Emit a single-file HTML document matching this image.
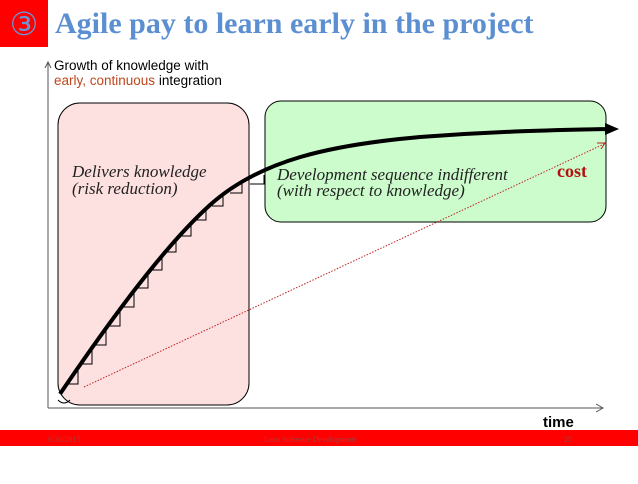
<!DOCTYPE html>
<html><head><style>
html,body{margin:0;padding:0;background:#fff;}
body{width:638px;height:479px;overflow:hidden;position:relative;}
</style></head><body>
<svg width="638" height="479" viewBox="0 0 638 479" xmlns="http://www.w3.org/2000/svg">
<rect x="0" y="0" width="48" height="47" fill="#ff0000"/>
<text x="24" y="35" font-family="DejaVu Sans, sans-serif" font-size="32" fill="#6a94d4" text-anchor="middle">③</text>
<text x="55" y="33" font-family="Liberation Serif, serif" font-weight="bold" font-size="30" fill="#5b8fd2">Agile pay to learn early in the project</text>
<text x="54" y="70" font-family="Liberation Sans, sans-serif" font-size="13.5" fill="#000">Growth of knowledge with</text>
<text x="54" y="85" font-family="Liberation Sans, sans-serif" font-size="13.5" fill="#000"><tspan fill="#c0461c">early, continuous</tspan> integration</text>
<rect x="58" y="103" width="191" height="302" rx="22" fill="#fde0e0" stroke="#000" stroke-width="1"/>
<rect x="265" y="101" width="341" height="121" rx="16" fill="#ccfccc" stroke="#000" stroke-width="1"/>
<line x1="48" y1="408" x2="48" y2="63" stroke="#555" stroke-width="1"/>
<path d="M45,68 L48,62 L51,68" fill="none" stroke="#555"/>
<line x1="48" y1="408" x2="602" y2="408" stroke="#555" stroke-width="1"/>
<path d="M596,404 L603,408 L596,412" fill="none" stroke="#555"/>
<text x="72" y="177" font-family="Liberation Serif, serif" font-style="italic" font-size="17" fill="#222">Delivers knowledge</text>
<text x="72" y="194" font-family="Liberation Serif, serif" font-style="italic" font-size="17" fill="#222">(risk reduction)</text>
<text x="277" y="180" font-family="Liberation Serif, serif" font-style="italic" font-size="17" fill="#222">Development sequence indifferent</text>
<text x="277" y="196" font-family="Liberation Serif, serif" font-style="italic" font-size="17" fill="#222">(with respect to knowledge)</text>
<text x="557" y="177" font-family="Liberation Serif, serif" font-weight="bold" font-size="18" fill="#b01010">cost</text>
<line x1="84" y1="387" x2="604" y2="144" stroke="#c02020" stroke-width="1" stroke-dasharray="1.5,1.5"/>
<path d="M597,143 L605,143 L601,149" fill="none" stroke="#c02020" stroke-width="1"/>
<g fill="none" stroke="#000" stroke-width="1">
<path d="M68,384 L78,384 L78,370"/>
<path d="M82,364 L92,364 L92,350"/>
<path d="M96,345 L106,345 L106,331"/>
<path d="M110,326 L120,326 L120,312"/>
<path d="M124,307 L134,307 L134,293"/>
<path d="M138,288 L148,288 L148,275"/>
<path d="M152,270 L162,270 L162,257"/>
<path d="M166,252 L176,252 L176,240"/>
<path d="M181,236 L191,236 L191,224"/>
<path d="M196,220 L206,220 L206,209"/>
<path d="M212,206 L223,206 L223,195"/>
<path d="M230,193 L242,193 L242,183"/>
<path d="M250,184 L264,184 L264,175"/>
<path d="M58,400 q6,6 12,0"/>
</g>
<path d="M60,394 C100,335 160,250 210,205 C260,160 330,145 420,137 C500,131 560,130 608,129" fill="none" stroke="#000" stroke-width="4"/>
<path d="M605,123 L619,129 L605,135 z" fill="#000"/>
<text x="543" y="427" font-family="Liberation Sans, sans-serif" font-weight="bold" font-size="15" fill="#000">time</text>
<rect x="0" y="430" width="638" height="16" fill="#ff0000"/>
<text x="48" y="442" font-family="Liberation Serif, serif" font-size="8" fill="#a04040">6/30/2015</text>
<text x="310" y="442" font-family="Liberation Serif, serif" font-size="8" fill="#a04040" text-anchor="middle">Lean Software Development</text>
<text x="564" y="442" font-family="Liberation Serif, serif" font-size="8" fill="#a04040">25</text>
</svg>
</body></html>
